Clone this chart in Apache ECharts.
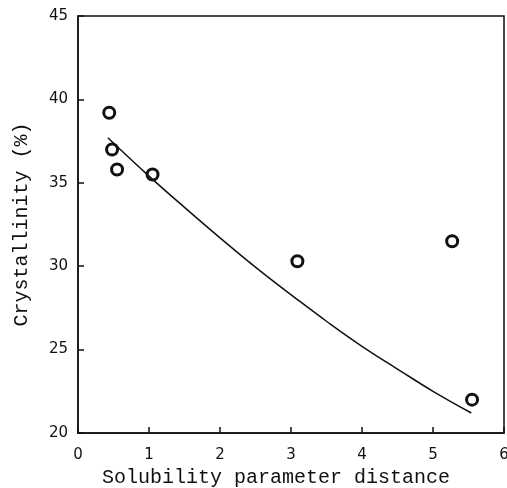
<!DOCTYPE html>
<html><head><meta charset="utf-8">
<script src="https://cdn.jsdelivr.net/npm/echarts@6/dist/echarts.min.js"></script>
<style>html,body{margin:0;padding:0;background:#fff}#c{width:507px;height:488px}</style>
</head><body><div id="c"></div>
<script>
const pointX = [0.44, 0.48, 0.55, 1.05, 3.09, 5.27, 5.55];
const pointY = [39.2, 37.0, 35.8, 35.5, 30.3, 31.5, 22.0];
const curveX = [0.42, 1.0, 1.44, 2.0, 2.57, 3.09, 3.5, 4.0, 4.55, 5.0, 5.54];
const curveY = [37.7, 35.4, 33.75, 31.7, 29.7, 28.0, 26.7, 25.2, 23.7, 22.5, 21.2];
const xTitle = 'Solubility parameter distance';
const yTitle = 'Crystallinity (%)';

const chart = echarts.init(document.getElementById('c'), null, {renderer: 'canvas'});
const tickFont = {fontFamily: 'DejaVu Sans', fontSize: 15, color: '#111'};
chart.setOption({
  animation: false,
  backgroundColor: '#fff',
  grid: {left: 78, right: 3, top: 16, bottom: 55, outerBoundsMode: 'none', containLabel: false,
         show: true, borderColor: '#111', borderWidth: 1.5, backgroundColor: 'transparent'},
  xAxis: {
    type: 'value', min: 0, max: 6, interval: 1,
    name: xTitle, nameLocation: 'middle', nameGap: 35,
    nameTextStyle: {fontFamily: 'Liberation Mono', fontSize: 20, color: '#111', padding: [0, 30, 0, 0]},
    axisLine: {lineStyle: {color: '#111', width: 1.5}},
    axisTick: {inside: true, length: 6, lineStyle: {color: '#111', width: 1.5}},
    axisLabel: Object.assign({margin: 15}, tickFont),
    splitLine: {show: false}
  },
  yAxis: {
    type: 'value', min: 20, max: 45, interval: 5,
    name: yTitle, nameLocation: 'middle', nameGap: 46,
    nameTextStyle: {fontFamily: 'Liberation Mono', fontSize: 20, color: '#111'},
    axisLine: {lineStyle: {color: '#111', width: 1.5}},
    axisTick: {inside: true, length: 6, lineStyle: {color: '#111', width: 1.5}},
    axisLabel: Object.assign({margin: 10}, tickFont),
    splitLine: {show: false}
  },
  series: [
    {
      type: 'line', data: curveX.map((x, i) => [x, curveY[i]]),
      smooth: 0.4, showSymbol: false,
      lineStyle: {color: '#111', width: 1.5}
    },
    {
      type: 'scatter', data: pointX.map((x, i) => [x, pointY[i]]),
      symbol: 'circle', symbolSize: 11,
      itemStyle: {color: '#fff', borderColor: '#111', borderWidth: 3, opacity: 1}
    }
  ]
});
</script></body></html>
